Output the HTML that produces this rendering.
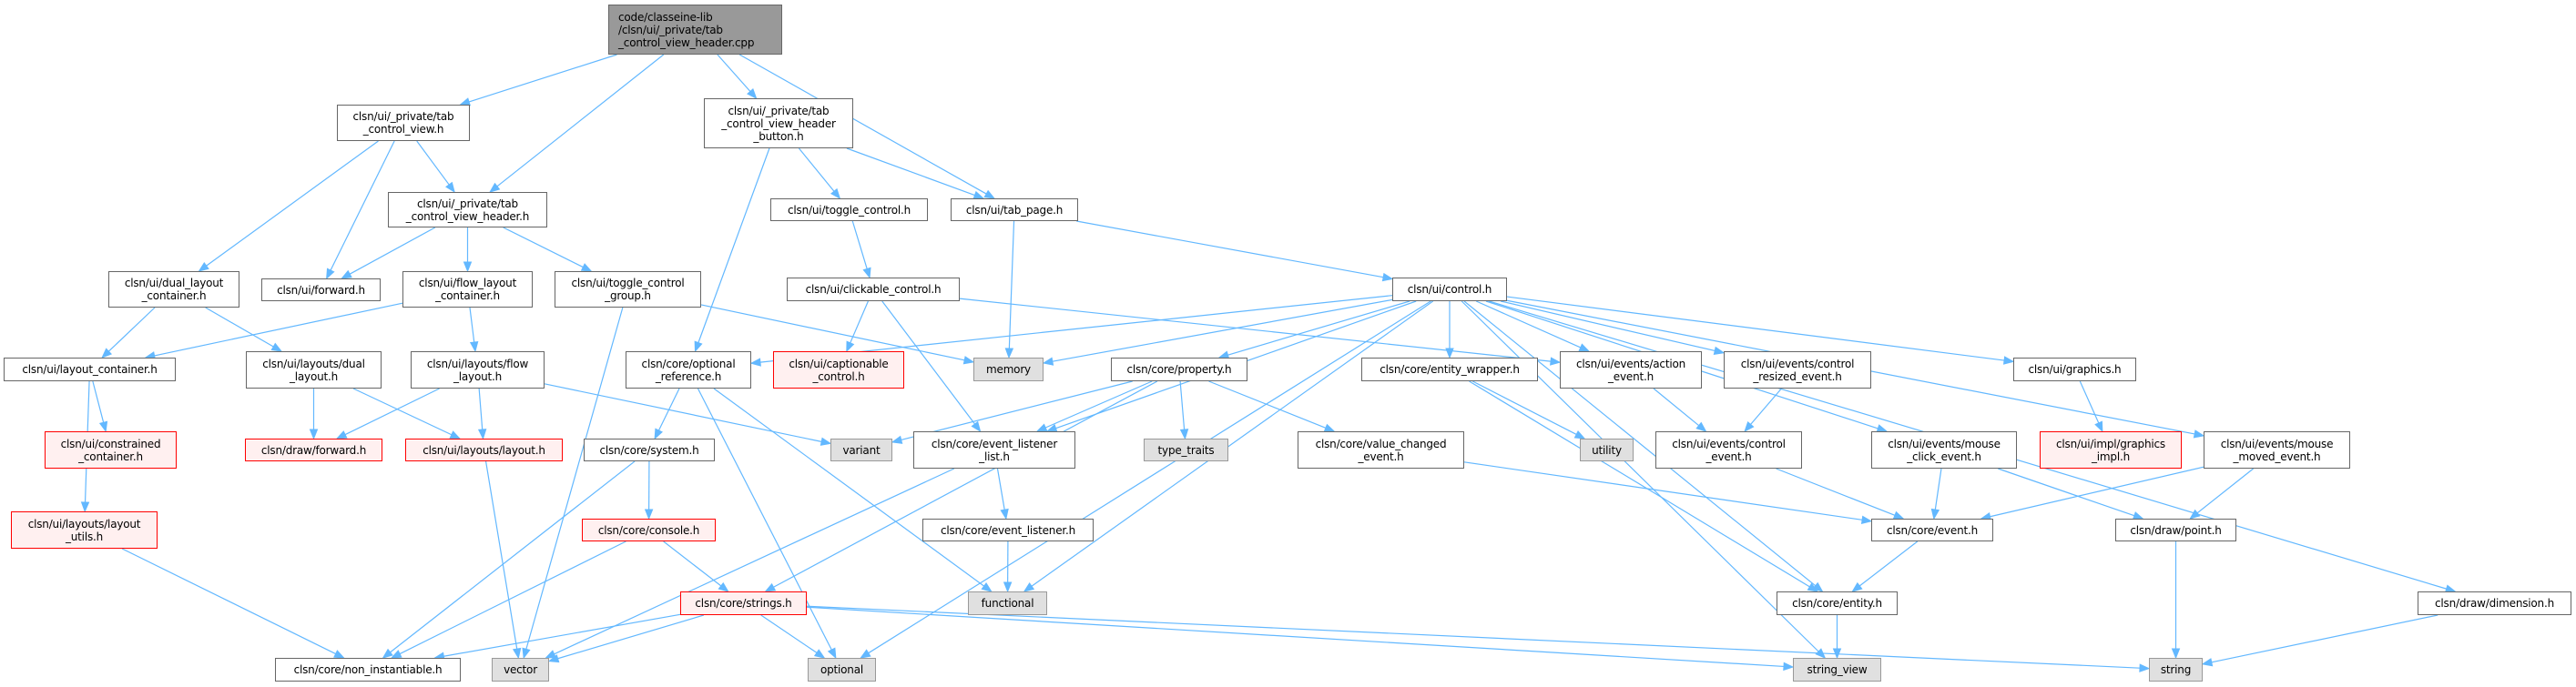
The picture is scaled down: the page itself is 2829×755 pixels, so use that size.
<!DOCTYPE html>
<html><head><meta charset="utf-8"><style>
html,body{margin:0;padding:0;background:#fff;}
#c{position:relative;width:2829px;height:755px;overflow:hidden;background:#fff;}
svg{position:absolute;left:0;top:0;}
.n{position:absolute;box-sizing:border-box;border:1px solid #666;background:#fff;display:flex;flex-direction:column;justify-content:center;align-items:center;text-align:center;font-family:"DejaVu Sans","Liberation Sans",sans-serif;font-size:12px;line-height:14px;color:#000;white-space:nowrap;letter-spacing:-0.2px;}
.g{background:#e0e0e0;border-color:#999;}
.r{background:#fff0f0;border-color:#f00;}
.root{background:#999;border-color:#666;align-items:flex-start;padding-left:10px;text-align:left;}
</style></head><body><div id="c">
<svg id="edges" width="2829" height="755"></svg>
<div class="n root" id="root" style="left:668px;top:5px;width:191px;height:55px">code/classeine-lib<br>/clsn/ui/_private/tab<br>_control_view_header.cpp</div>
<div class="n" id="tcv" style="left:370px;top:115px;width:146px;height:40px">clsn/ui/_private/tab<br>_control_view.h</div>
<div class="n" id="tcvh" style="left:426px;top:211px;width:175px;height:39px">clsn/ui/_private/tab<br>_control_view_header.h</div>
<div class="n" id="btn" style="left:773px;top:108px;width:164px;height:55px">clsn/ui/_private/tab<br>_control_view_header<br>_button.h</div>
<div class="n" id="dlc" style="left:119px;top:298px;width:144px;height:40px">clsn/ui/dual_layout<br>_container.h</div>
<div class="n" id="fwd" style="left:287px;top:306px;width:131px;height:25px">clsn/ui/forward.h</div>
<div class="n" id="flc" style="left:442px;top:298px;width:143px;height:40px">clsn/ui/flow_layout<br>_container.h</div>
<div class="n" id="tcg" style="left:609px;top:298px;width:161px;height:40px">clsn/ui/toggle_control<br>_group.h</div>
<div class="n" id="tgl" style="left:846px;top:218px;width:173px;height:25px">clsn/ui/toggle_control.h</div>
<div class="n" id="tab" style="left:1044px;top:218px;width:140px;height:25px">clsn/ui/tab_page.h</div>
<div class="n" id="clk" style="left:864px;top:305px;width:190px;height:26px">clsn/ui/clickable_control.h</div>
<div class="n" id="ctl" style="left:1529px;top:305px;width:126px;height:26px">clsn/ui/control.h</div>
<div class="n" id="lc" style="left:4px;top:393px;width:189px;height:26px">clsn/ui/layout_container.h</div>
<div class="n" id="dl" style="left:270px;top:386px;width:149px;height:41px">clsn/ui/layouts/dual<br>_layout.h</div>
<div class="n" id="fl" style="left:451px;top:386px;width:147px;height:41px">clsn/ui/layouts/flow<br>_layout.h</div>
<div class="n" id="optref" style="left:687px;top:386px;width:138px;height:41px">clsn/core/optional<br>_reference.h</div>
<div class="n r" id="capt" style="left:849px;top:386px;width:144px;height:41px">clsn/ui/captionable<br>_control.h</div>
<div class="n g" id="mem" style="left:1069px;top:393px;width:77px;height:26px">memory</div>
<div class="n" id="prop" style="left:1220px;top:393px;width:150px;height:26px">clsn/core/property.h</div>
<div class="n" id="ew" style="left:1495px;top:393px;width:194px;height:26px">clsn/core/entity_wrapper.h</div>
<div class="n" id="act" style="left:1713px;top:386px;width:156px;height:41px">clsn/ui/events/action<br>_event.h</div>
<div class="n" id="res" style="left:1893px;top:386px;width:162px;height:41px">clsn/ui/events/control<br>_resized_event.h</div>
<div class="n" id="gfx" style="left:2211px;top:393px;width:135px;height:26px">clsn/ui/graphics.h</div>
<div class="n r" id="cons" style="left:49px;top:474px;width:145px;height:41px">clsn/ui/constrained<br>_container.h</div>
<div class="n r" id="dfwd" style="left:269px;top:482px;width:151px;height:25px">clsn/draw/forward.h</div>
<div class="n r" id="lay" style="left:445px;top:482px;width:173px;height:25px">clsn/ui/layouts/layout.h</div>
<div class="n" id="sys" style="left:641px;top:482px;width:144px;height:25px">clsn/core/system.h</div>
<div class="n g" id="var" style="left:912px;top:482px;width:68px;height:25px">variant</div>
<div class="n" id="ell" style="left:1003px;top:474px;width:178px;height:41px">clsn/core/event_listener<br>_list.h</div>
<div class="n g" id="tt" style="left:1256px;top:482px;width:93px;height:25px">type_traits</div>
<div class="n" id="vce" style="left:1425px;top:474px;width:183px;height:41px">clsn/core/value_changed<br>_event.h</div>
<div class="n g" id="util" style="left:1735px;top:482px;width:59px;height:25px">utility</div>
<div class="n" id="cev" style="left:1818px;top:474px;width:161px;height:41px">clsn/ui/events/control<br>_event.h</div>
<div class="n" id="mce" style="left:2055px;top:474px;width:160px;height:41px">clsn/ui/events/mouse<br>_click_event.h</div>
<div class="n r" id="gimpl" style="left:2240px;top:474px;width:156px;height:41px">clsn/ui/impl/graphics<br>_impl.h</div>
<div class="n" id="mme" style="left:2420px;top:474px;width:161px;height:41px">clsn/ui/events/mouse<br>_moved_event.h</div>
<div class="n r" id="lu" style="left:12px;top:562px;width:161px;height:41px">clsn/ui/layouts/layout<br>_utils.h</div>
<div class="n r" id="conh" style="left:639px;top:570px;width:147px;height:25px">clsn/core/console.h</div>
<div class="n" id="el" style="left:1013px;top:570px;width:188px;height:25px">clsn/core/event_listener.h</div>
<div class="n" id="evt" style="left:2055px;top:570px;width:134px;height:25px">clsn/core/event.h</div>
<div class="n" id="pt" style="left:2323px;top:570px;width:133px;height:25px">clsn/draw/point.h</div>
<div class="n r" id="str" style="left:747px;top:650px;width:139px;height:26px">clsn/core/strings.h</div>
<div class="n g" id="fn" style="left:1063px;top:650px;width:87px;height:26px">functional</div>
<div class="n" id="ent" style="left:1951px;top:650px;width:133px;height:26px">clsn/core/entity.h</div>
<div class="n" id="dim" style="left:2655px;top:650px;width:169px;height:26px">clsn/draw/dimension.h</div>
<div class="n" id="ni" style="left:302px;top:723px;width:204px;height:26px">clsn/core/non_instantiable.h</div>
<div class="n g" id="vec" style="left:540px;top:723px;width:63px;height:26px">vector</div>
<div class="n g" id="opt" style="left:887px;top:723px;width:75px;height:26px">optional</div>
<div class="n g" id="sv" style="left:1969px;top:723px;width:97px;height:26px">string_view</div>
<div class="n g" id="s" style="left:2360px;top:723px;width:59px;height:26px">string</div>
</div>
<script>
var E="root>tcv root>tcvh root>btn root>tab tcv>dlc tcv>fwd tcv>tcvh tcvh>fwd tcvh>flc tcvh>tcg btn>optref btn>tgl btn>tab tgl>clk tab>mem tab>ctl dlc>lc dlc>dl flc>lc flc>fl tcg>vec tcg>mem lc>cons lc>lu lu>ni dl>dfwd dl>lay fl>dfwd fl>lay fl>var lay>vec clk>capt clk>ell clk>act optref>sys optref>opt optref>fn sys>conh sys>ni conh>str conh>ni str>ni str>vec str>opt str>sv str>s ell>vec ell>el el>fn prop>var prop>ell prop>tt prop>str prop>vce ctl>optref ctl>mem ctl>prop ctl>ell ctl>fn ctl>opt ctl>ew ctl>act ctl>res ctl>gfx ctl>mce ctl>mme ctl>dim ctl>sv ctl>ent ew>util ew>ent act>cev res>cev cev>evt vce>evt mce>evt mce>pt mme>evt mme>pt gfx>gimpl evt>ent ent>sv pt>s dim>s".split(" ");
function R(id){var e=document.getElementById(id);return {x:e.offsetLeft,y:e.offsetTop,w:e.offsetWidth,h:e.offsetHeight};}
function clip(r,cx,cy,dx,dy){var hw=r.w/2,hh=r.h/2,t=1e9;if(dx)t=Math.min(t,hw/Math.abs(dx));if(dy)t=Math.min(t,hh/Math.abs(dy));return [cx+dx*t,cy+dy*t];}
var sv=document.getElementById('edges'),h='';
E.forEach(function(e){var p=e.split('>'),a=R(p[0]),b=R(p[1]);
var ax=a.x+a.w/2,ay=a.y+a.h/2,bx=b.x+b.w/2,by=b.y+b.h/2,dx=bx-ax,dy=by-ay;
var P=clip(a,ax,ay,dx,dy),Q=clip(b,bx,by,-dx,-dy);
var L=Math.hypot(Q[0]-P[0],Q[1]-P[1]),ux=(Q[0]-P[0])/L,uy=(Q[1]-P[1])/L;
var ex=Q[0]-ux*10,ey=Q[1]-uy*10;
h+='<line x1="'+P[0]+'" y1="'+P[1]+'" x2="'+ex+'" y2="'+ey+'" stroke="#63b8ff" stroke-width="1.2"/>';
h+='<polygon fill="#63b8ff" stroke="#63b8ff" points="'+Q[0]+','+Q[1]+' '+(ex-uy*4)+','+(ey+ux*4)+' '+(ex+uy*4)+','+(ey-ux*4)+'"/>';});
sv.innerHTML=h;
</script>
</body></html>
